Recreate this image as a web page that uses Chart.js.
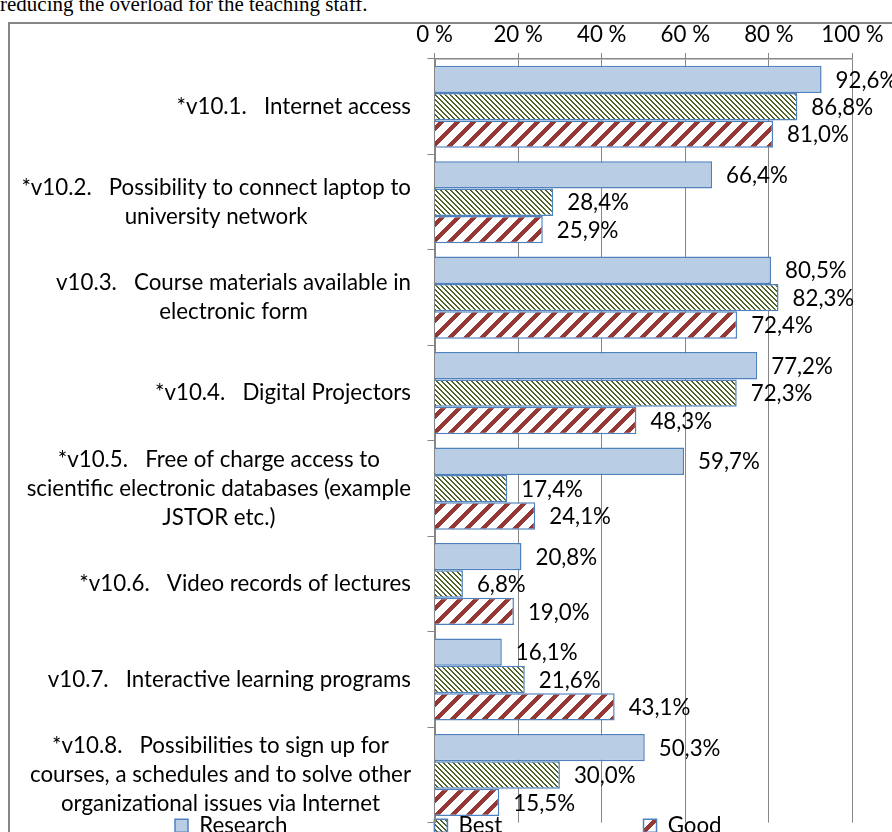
<!DOCTYPE html>
<html>
<head>
  <title>University infrastructure</title>
  <script src="https://cdn.jsdelivr.net/npm/chart.js"></script>
  <style>
    body { margin:0; width:892px; height:832px; overflow:hidden; position:relative; background:#fff; }
    #top { position:absolute; left:0; top:-8px; font:21px "Liberation Serif", serif; white-space:nowrap; }
    #frame { position:absolute; left:8px; top:22px; width:1000px; height:1000px; border:2px solid #868686; }
    canvas { position:absolute; left:0; top:0; }
  </style>
</head>
<body>
<div id="top">reducing the overload for the teaching staff.</div>
<div id="frame"></div>
<canvas id="chart" width="892" height="865"></canvas>

<script>
const categories = [
  "*v10.1.   Internet access",
  ["*v10.2.   Possibility to connect laptop to", "university network"],
  ["v10.3.   Course materials available in", "electronic form"],
  "*v10.4.   Digital Projectors",
  ["*v10.5.   Free of charge access to", "scientific electronic databases (example", "JSTOR etc.)"],
  "*v10.6.   Video records of lectures",
  "v10.7.   Interactive learning programs",
  ["*v10.8.   Possibilities to sign up for", "courses, a schedules and to solve other", "organizational issues via Internet"]
];
const research = [92.6, 66.4, 80.5, 77.2, 59.7, 20.8, 16.1, 50.3];
const best     = [86.8, 28.4, 82.3, 72.3, 17.4, 6.8, 21.6, 30.0];
const good     = [81.0, 25.9, 72.4, 48.3, 24.1, 19.0, 43.1, 15.5];
const seriesNames = ["Research", "Best", "Good"];
const xTickLabels = ["0 %", "20 %", "40 %", "60 %", "80 %", "100 %"];

const FONT = "Lato";
const FS = 22.3;
const GRID = "#868686";

function makePattern(size, color, test) {
  const c = document.createElement("canvas");
  c.width = size; c.height = size;
  const g = c.getContext("2d");
  g.fillStyle = "#fff";
  g.fillRect(0, 0, size, size);
  g.fillStyle = color;
  for (let x = 0; x < size; x++)
    for (let y = 0; y < size; y++)
      if (test(x, y)) g.fillRect(x, y, 1, 1);
  return g.createPattern(c, "repeat");
}
// downward diagonal / wide upward diagonal
const bestFill = makePattern(5, "#4F6228", (x, y) => (x - y + 5) % 5 < 2);
const goodFill = makePattern(16, "#953735", (x, y) => (x + y) % 16 < 6);

// pad legend texts with spaces so boxes land where they are in the picture
const legendBoxX = [175, 436, 648];
function legendTexts() {
  const c = document.createElement("canvas").getContext("2d");
  c.font = FS + "px " + FONT;
  return seriesNames.map((name, i) => {
    if (i === seriesNames.length - 1) return name;
    const target = legendBoxX[i + 1] - legendBoxX[i] - 13 - FS / 2 - 10;
    let t = name;
    while (c.measureText(t + " ").width <= target + 2) t += " ";
    return t;
  });
}
const legendLabels = legendTexts();

const fmt = v => v.toFixed(1).replace(".", ",") + "%";

const labelPlugin = {
  id: "labels",
  afterLayout(chart) {
    chart.legend.top -= 18;
    chart.legend.bottom -= 18;
  },
  afterDatasetsDraw(chart) {
    const ctx = chart.ctx;
    ctx.save();
    ctx.font = FS + "px " + FONT;
    ctx.fillStyle = "#000";
    ctx.textAlign = "left";
    ctx.textBaseline = "middle";
    chart.data.datasets.forEach((ds, di) => {
      chart.getDatasetMeta(di).data.forEach((bar, i) => {
        ctx.fillText(fmt(ds.data[i]), bar.x + 14, bar.y + 1);
      });
    });
    // category labels, lines centred on the widest line, block right-aligned
    const y = chart.scales.y;
    ctx.textAlign = "center";
    categories.forEach((cat, i) => {
      const lines = Array.isArray(cat) ? cat : [cat];
      const w = Math.max(...lines.map(l => ctx.measureText(l).width));
      const cx = y.right - 23.5 - w / 2;
      const cy = y.getPixelForValue(i);
      lines.forEach((l, j) => ctx.fillText(l, cx, cy + (j - (lines.length - 1) / 2) * 29));
    });
    ctx.restore();
  }
};

new Chart(document.getElementById("chart"), {
  type: "bar",
  data: {
    labels: categories,
    datasets: [
      { label: seriesNames[0], data: research, backgroundColor: "#B9CDE5", borderColor: "#4F81BD", borderWidth: 1.5 },
      { label: seriesNames[1], data: best, backgroundColor: bestFill, borderColor: "#4F81BD", borderWidth: 1.5 },
      { label: seriesNames[2], data: good, backgroundColor: goodFill, borderColor: "#4F81BD", borderWidth: 1.5 }
    ]
  },
  options: {
    indexAxis: "y",
    responsive: false,
    animation: false,
    categoryPercentage: 0.86,
    barPercentage: 1,
    layout: { padding: { left: 165, right: 39.5, top: 0, bottom: 0 } },
    scales: {
      x: {
        position: "top",
        min: 0, max: 100,
        ticks: { stepSize: 20, color: "#000", font: { family: FONT, size: FS }, padding: 5,
                 callback: (v, i) => xTickLabels[i] },
        grid: { color: GRID, tickLength: 6 },
        border: { color: GRID, width: 1.5 },
        afterFit: s => { s.height = 59; }
      },
      y: {
        ticks: { display: false },
        grid: { drawOnChartArea: false, tickLength: 7, color: GRID, offset: true },
        border: { color: GRID, width: 2 },
        afterFit: s => { s.width = 434.5 - 165; }
      }
    },
    plugins: {
      tooltip: { enabled: false },
      legend: {
        position: "bottom",
        align: "start",
        labels: {
          boxWidth: 13, boxHeight: 13, padding: 10, color: "#000",
          font: { family: FONT, size: FS },
          generateLabels(chart) {
            const items = Chart.defaults.plugins.legend.labels.generateLabels(chart);
            items.forEach((it, i) => { it.text = legendLabels[i]; });
            return items;
          }
        }
      }
    }
  },
  plugins: [labelPlugin]
});
</script>
</body>
</html>
